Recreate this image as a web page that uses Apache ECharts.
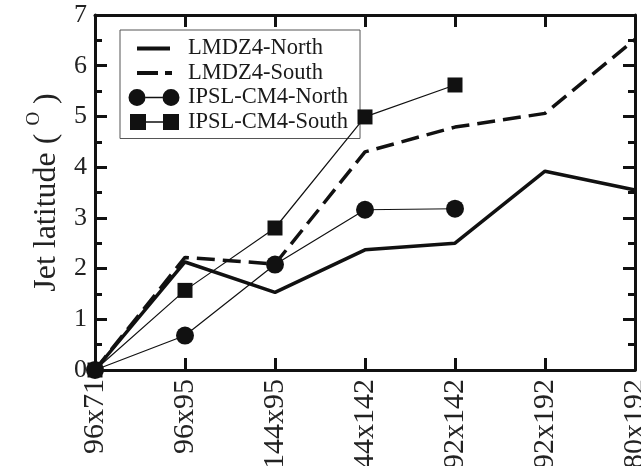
<!DOCTYPE html>
<html>
<head>
<meta charset="utf-8">
<script src="https://cdn.jsdelivr.net/npm/echarts@6/dist/echarts.min.js"></script>
<style>
  html, body { margin: 0; padding: 0; background: #fff; }
  #chart { width: 641px; height: 466px; }
</style>
</head>
<body>
<div id="chart"></div>
<script>
// Model resolutions (nlon x nlat)
const categories = ['96x71', '96x95', '144x95', '144x142', '192x142', '192x192', '280x192'];

// Jet latitude shift (degrees)
const lmdzNorth = [0, 2.13, 1.53, 2.37, 2.50, 3.92, 3.55];
const lmdzSouth = [0, 2.22, 2.09, 4.30, 4.79, 5.06, 6.52];
const ipslNorth = [0, 0.68, 2.08, 3.16, 3.18];
const ipslSouth = [0, 1.57, 2.80, 4.99, 5.62];

const seriesNames = ['LMDZ4-North', 'LMDZ4-South', 'IPSL-CM4-North', 'IPSL-CM4-South'];

const FONT = 'Liberation Serif';
const INK = '#111';

// Legend glyphs, all laid out in a 52x18 box (tiny corner dots fix the box size)
const corners = 'M0 0h0.01v0.01H0Z M51.99 17.99h0.01v0.01h-0.01Z ';
const iconSolid = 'path://' + corners + 'M9 7H42V11H9Z';
const iconDash = 'path://' + corners + 'M9 7H30V11H9Z M37 7H44V11H37Z';
const iconCircles = 'path://' + corners +
  'M0.5 9A8.5 8.5 0 1 1 17.5 9A8.5 8.5 0 1 1 0.5 9Z M17.5 8.3H34.5V9.7H17.5Z M34.5 9A8.5 8.5 0 1 1 51.5 9A8.5 8.5 0 1 1 34.5 9Z';
const iconSquares = 'path://' + corners + 'M2 1H18V17H2Z M18 8.3H35V9.7H18Z M35 1H51V17H35Z';

const axisLine = { show: true, onZero: false, lineStyle: { color: INK, width: 3 } };
const majorTick = { show: true, inside: true, length: 12, lineStyle: { color: INK, width: 3 } };
const minorTick = { show: true, splitNumber: 2, length: 7, lineStyle: { color: INK, width: 3 } };

const chart = echarts.init(document.getElementById('chart'), null, { renderer: 'canvas' });

chart.setOption({
  backgroundColor: '#fff',
  animation: false,
  grid: { left: 95, right: 6, top: 15, bottom: 96, containLabel: false, outerBoundsMode: 'none' },
  legend: {
    orient: 'vertical',
    left: 120,
    top: 30,
    padding: [7, 12, 5, 8],
    itemGap: 1.5,
    itemWidth: 52,
    itemHeight: 18,
    backgroundColor: '#fff',
    borderColor: '#555',
    borderWidth: 1,
    borderRadius: 0,
    itemStyle: { color: INK, borderWidth: 0 },
    textStyle: { fontFamily: FONT, fontSize: 22.5, color: '#1a1a1a', padding: [0, 0, 0, 3] },
    data: [
      { name: seriesNames[0], icon: iconSolid },
      { name: seriesNames[1], icon: iconDash },
      { name: seriesNames[2], icon: iconCircles },
      { name: seriesNames[3], icon: iconSquares }
    ],
    selectedMode: false
  },
  xAxis: [
    {
      type: 'category',
      data: categories,
      boundaryGap: false,
      position: 'bottom',
      axisLine: axisLine,
      axisTick: majorTick,
      splitLine: { show: false },
      axisLabel: {
        rotate: 90,
        margin: 9,
        interval: 0,
        fontFamily: FONT,
        fontSize: 30,
        color: '#222'
      }
    },
    {
      type: 'category',
      data: categories,
      boundaryGap: false,
      position: 'top',
      axisLine: axisLine,
      axisTick: majorTick,
      splitLine: { show: false },
      axisLabel: { show: false }
    }
  ],
  yAxis: [
    {
      type: 'value',
      min: 0,
      max: 7,
      interval: 1,
      position: 'left',
      axisLine: axisLine,
      axisTick: majorTick,
      minorTick: minorTick,
      splitLine: { show: false },
      axisLabel: { margin: 8, fontFamily: FONT, fontSize: 26, color: '#222' },
      name: '{a|Jet latitude ( }{s|O}{a| )}',
      nameLocation: 'middle',
      nameGap: 30,
      nameMoveOverlap: false,
      nameTextStyle: {
        rich: {
          a: { fontFamily: FONT, fontSize: 32, color: '#222', lineHeight: 36 },
          s: { fontFamily: FONT, fontSize: 19, color: '#222', padding: [0, 0, 26, 0], lineHeight: 36 }
        }
      }
    },
    {
      type: 'value',
      min: 0,
      max: 7,
      interval: 1,
      position: 'right',
      axisLine: axisLine,
      axisTick: majorTick,
      minorTick: minorTick,
      splitLine: { show: false },
      axisLabel: { show: false }
    }
  ],
  series: [
    {
      name: seriesNames[0],
      type: 'line',
      data: lmdzNorth,
      symbol: 'none',
      lineStyle: { color: INK, width: 3.5 },
      itemStyle: { color: INK },
      z: 3
    },
    {
      name: seriesNames[1],
      type: 'line',
      data: lmdzSouth,
      symbol: 'none',
      lineStyle: { color: INK, width: 3.5, type: [18, 8] },
      itemStyle: { color: INK },
      z: 3
    },
    {
      name: seriesNames[2],
      type: 'line',
      data: ipslNorth,
      symbol: 'circle',
      symbolSize: 18,
      lineStyle: { color: INK, width: 1.2 },
      itemStyle: { color: INK, borderWidth: 0 },
      z: 4
    },
    {
      name: seriesNames[3],
      type: 'line',
      data: ipslSouth,
      symbol: 'rect',
      symbolSize: 15,
      lineStyle: { color: INK, width: 1.2 },
      itemStyle: { color: INK, borderWidth: 0 },
      z: 4
    }
  ]
});
</script>
</body>
</html>
